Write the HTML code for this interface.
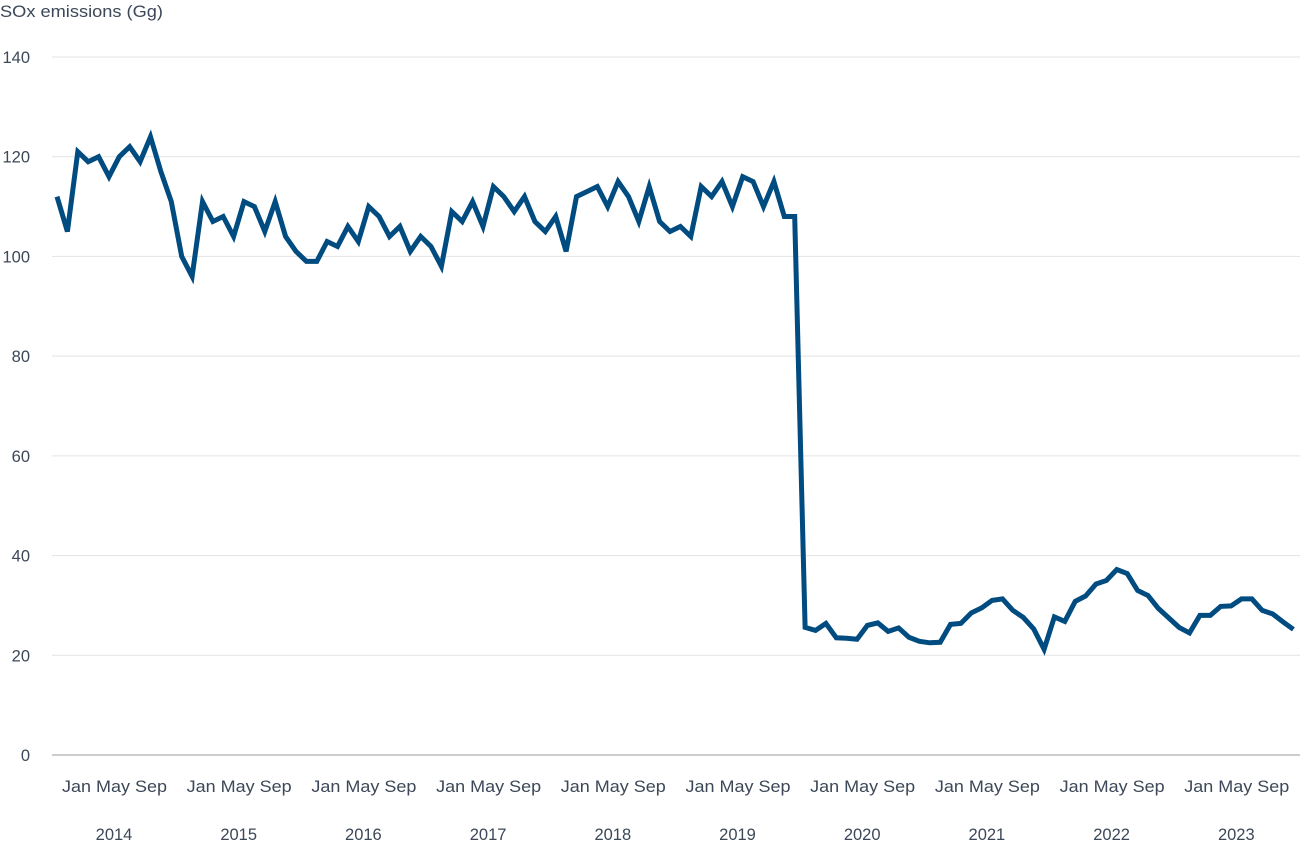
<!DOCTYPE html>
<html><head><meta charset="utf-8"><style>
body{margin:0;background:#fff;}
svg text{font-family:"Liberation Sans",sans-serif;fill:#3c4858;font-size:16.5px;}
</style></head><body>
<svg id="c" width="1300" height="841" xmlns="http://www.w3.org/2000/svg">
<text x="0" y="17" textLength="163" lengthAdjust="spacingAndGlyphs">SOx emissions (Gg)</text>
<g id="grid"></g>
<polyline id="line" fill="none" stroke="#004b7f" stroke-width="5" stroke-linejoin="miter"/>
</svg>
<script>
var d=[112,105,121,119,120,116,120,122,119,124,117,111,
100,96,111,107,108,104,111,110,105,111,104,101,
99,99,103,102,106,103,110,108,104,106,101,104,
102,98,109,107,111,106,114,112,109,112,107,105,
108,101,112,113,114,110,115,112,107,114,107,105,
106,104,114,112,115,110,116,115,110,115,108,108,
25.6,25,26.4,23.5,23.4,23.2,26,26.5,24.8,25.5,23.6,22.8,
22.5,22.6,26.2,26.4,28.5,29.5,31,31.3,29,27.6,25.3,21.2,
27.7,26.8,30.8,31.9,34.3,35,37.2,36.4,33,32,29.4,27.5,
25.6,24.5,28,28,29.8,29.9,31.3,31.3,29,28.3,26.7,25.2];
function Y(v){return 755-v*698/140;}
var g='';
for(var v=0;v<=140;v+=20){var y=Y(v);
g+='<line x1="52" x2="1300" y1="'+y+'" y2="'+y+'" stroke="'+(v==0?'#999':'#e3e3e3')+'" stroke-width="1"/>';
g+='<text x="30" y="'+(y+6)+'" text-anchor="end">'+v+'</text>';}
for(var k=0;k<10;k++){var o=k*124.7;
g+='<text x="'+(62+o)+'" y="792" textLength="105" lengthAdjust="spacingAndGlyphs">Jan May Sep</text>';
g+='<text x="'+(114+o)+'" y="840" text-anchor="middle">'+(2014+k)+'</text>';}
document.getElementById('grid').innerHTML=g;
document.getElementById('line').setAttribute('points',d.map(function(v,i){return (57+i*10.39).toFixed(1)+','+Y(v).toFixed(1)}).join(' '));
</script>
</body></html>
